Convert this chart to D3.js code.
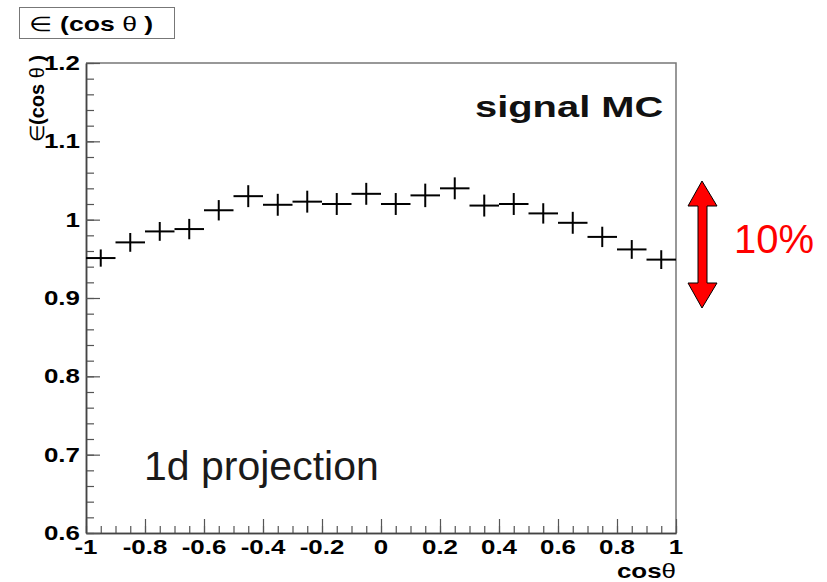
<!DOCTYPE html>
<html>
<head>
<meta charset="utf-8">
<script src="https://cdn.jsdelivr.net/npm/d3@7"></script>
<style>
  body { margin: 0; background: #fff; }
  svg { display: block; font-family: "Liberation Sans", Arial, Helvetica, sans-serif; }
</style>
</head>
<body>
<svg width="827" height="582"></svg>
<script>
// bin centres of the cos(theta) histogram
const binCenters = [-0.95, -0.85, -0.75, -0.65, -0.55, -0.45, -0.35, -0.25, -0.15, -0.05,
                    0.05, 0.15, 0.25, 0.35, 0.45, 0.55, 0.65, 0.75, 0.85, 0.95]
const binHalfWidth = 0.05
// efficiency per bin
const effValues = [0.951, 0.971, 0.985, 0.988, 1.012, 1.030, 1.019, 1.023, 1.020, 1.033,
                   1.020, 1.031, 1.040, 1.018, 1.020, 1.008, 0.996, 0.978, 0.962, 0.949]
const effErrors = [0.011, 0.012, 0.012, 0.013, 0.013, 0.014, 0.014, 0.014, 0.014, 0.014,
                   0.014, 0.015, 0.014, 0.014, 0.014, 0.013, 0.014, 0.013, 0.012, 0.012]

const xTicks = [-1, -0.8, -0.6, -0.4, -0.2, 0, 0.2, 0.4, 0.6, 0.8, 1]
const xTickLabels = ["-1", "-0.8", "-0.6", "-0.4", "-0.2", "0", "0.2", "0.4", "0.6", "0.8", "1"]
const yTicks = [0.6, 0.7, 0.8, 0.9, 1.0, 1.1, 1.2]
const yTickLabels = ["0.6", "0.7", "0.8", "0.9", "1", "1.1", "1.2"]

const SX = 1.33 // the ROOT text in the picture is stretched sideways
const axisColor = "#555"

const svg = d3.select("svg")
let frame = {left: 86, right: 676, top: 63, bottom: 533}

const x = d3.scaleLinear().domain([-1, 1]).range([frame.left, frame.right])
const y = d3.scaleLinear().domain([0.6, 1.2]).range([frame.bottom, frame.top])

// frame top / right
svg.append("path")
  .attr("d", `M${frame.left},${frame.top}H${frame.right}V${frame.bottom}`)
  .attr("fill", "none")
  .attr("stroke", "#777")
  .attr("stroke-width", 1.5)

// x axis, ticks pointing inside
const xMinor = d3.range(-1, 1.001, 0.05).map(d => +d.toFixed(2))
svg.append("g")
  .attr("transform", `translate(0,${frame.bottom})`)
  .call(d3.axisBottom(x).tickValues(xMinor).tickSize(-7).tickFormat("").tickSizeOuter(0))
svg.append("g")
  .attr("transform", `translate(0,${frame.bottom})`)
  .call(d3.axisBottom(x).tickValues(xTicks).tickSize(-14).tickFormat("").tickSizeOuter(0))

// y axis
const yMinor = d3.range(0.6, 1.2001, 0.02).map(d => +d.toFixed(2))
svg.append("g")
  .attr("transform", `translate(${frame.left},0)`)
  .call(d3.axisLeft(y).tickValues(yMinor).tickSize(-8).tickFormat("").tickSizeOuter(0))
svg.append("g")
  .attr("transform", `translate(${frame.left},0)`)
  .call(d3.axisLeft(y).tickValues(yTicks).tickSize(-14).tickFormat("").tickSizeOuter(0))

svg.selectAll(".domain").attr("stroke", "#444").attr("stroke-width", 1.5)
svg.selectAll(".tick line").attr("stroke", axisColor).attr("stroke-width", 1.2)

// tick labels
svg.selectAll(".xlab")
  .data(xTicks)
  .enter()
  .append("text")
  .attr("transform", d => `translate(${x(d)},554) scale(${SX},1)`)
  .attr("text-anchor", "middle")
  .attr("font-size", "19.5px")
  .attr("font-weight", "bold")
  .text((d, i) => xTickLabels[i])

svg.selectAll(".ylab")
  .data(yTicks)
  .enter()
  .append("text")
  .attr("transform", d => `translate(80,${y(d) + 7}) scale(${SX},1)`)
  .attr("text-anchor", "end")
  .attr("font-size", "19.5px")
  .attr("font-weight", "bold")
  .text((d, i) => yTickLabels[i])

// axis titles
const xt = svg.append("text")
  .attr("transform", `translate(676,578) scale(${SX},1)`)
  .attr("text-anchor", "end")
  .attr("font-size", "19.5px")
  .attr("font-weight", "bold")
xt.append("tspan").text("cos")
xt.append("tspan").attr("font-weight", "normal").text("θ")

const yt = svg.append("text")
  .attr("transform", "translate(44,55) rotate(-90)")
  .attr("text-anchor", "end")
  .attr("font-size", "20px")
  .attr("font-weight", "bold")
yt.append("tspan").attr("font-weight", "normal").text("∈")
yt.append("tspan").text("(cos ")
yt.append("tspan").attr("font-weight", "normal").text("θ")
yt.append("tspan").text(" )")

// title box
svg.append("rect")
  .attr("x", 19.5).attr("y", 7.5)
  .attr("width", 155).attr("height", 31)
  .attr("fill", "#fff")
  .attr("stroke", "#777")
  .attr("stroke-width", 1)
const tt = svg.append("text")
  .attr("transform", `translate(29,31) scale(${SX},1)`)
  .attr("font-size", "20px")
  .attr("font-weight", "bold")
tt.append("tspan").attr("font-weight", "normal").text("∈")
tt.append("tspan").text(" (cos ")
tt.append("tspan").attr("font-weight", "normal").text("θ")
tt.append("tspan").text(" )")

// data points: bin width + error bar
const pts = svg.append("g")
binCenters.forEach(function(c, i) {
  pts.append("line")
    .attr("x1", x(c - binHalfWidth)).attr("x2", x(c + binHalfWidth))
    .attr("y1", y(effValues[i])).attr("y2", y(effValues[i]))
    .attr("stroke", "#000").attr("stroke-width", 2)
  pts.append("line")
    .attr("x1", x(c)).attr("x2", x(c))
    .attr("y1", y(effValues[i] - effErrors[i])).attr("y2", y(effValues[i] + effErrors[i]))
    .attr("stroke", "#000").attr("stroke-width", 2)
})

// labels inside the frame
svg.append("text")
  .attr("transform", `translate(475,117) scale(${SX},1)`)
  .attr("font-size", "30px")
  .attr("font-weight", "bold")
  .attr("fill", "#111")
  .text("signal MC")

svg.append("text")
  .attr("x", 144).attr("y", 480)
  .attr("font-size", "41px")
  .attr("fill", "#1a1a1a")
  .text("1d projection")

// red double arrow and 10%
const arrow = [[702, 181], [717, 206], [707, 206], [707, 283], [717, 283], [702, 308],
               [688, 283], [698, 283], [698, 206], [688, 206]]
svg.append("path")
  .attr("d", d3.line()(arrow) + "Z")
  .attr("fill", "#ff0000")
  .attr("stroke", "#000")
  .attr("stroke-width", 1)

svg.append("text")
  .attr("x", 734).attr("y", 253)
  .attr("font-size", "40px")
  .attr("fill", "#ff0000")
  .text("10%")
</script>
</body>
</html>
